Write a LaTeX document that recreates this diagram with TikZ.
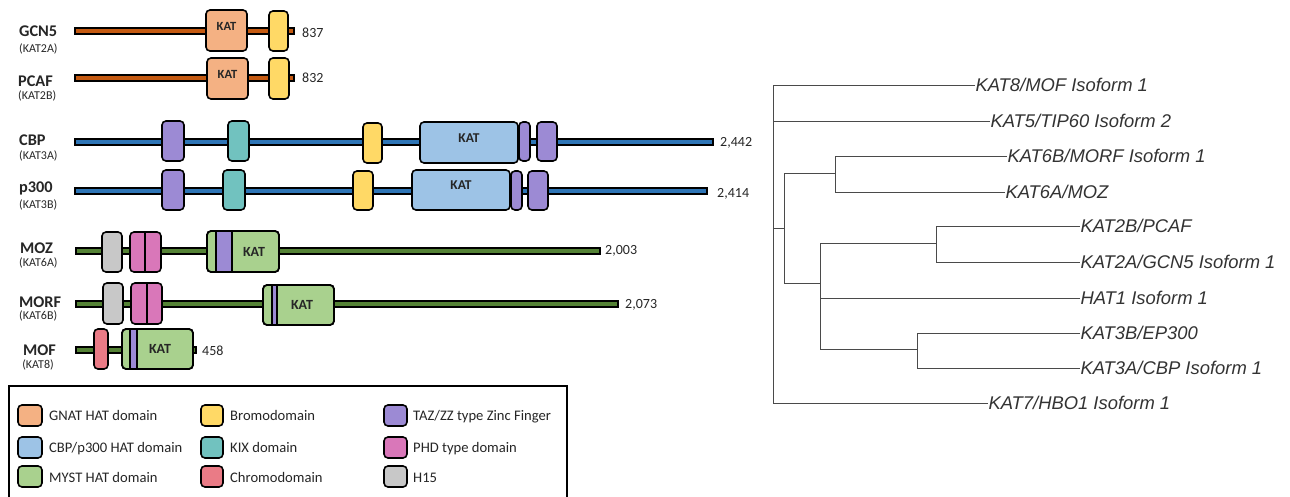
\documentclass[tikz,border=0pt]{standalone}
\usepackage{fontspec}
\setmainfont{Carlito}
\newfontfamily\treefont{Liberation Sans}
\usetikzlibrary{fit}
\definecolor{gnatc}{HTML}{F4B183}
\definecolor{bromoc}{HTML}{FFD966}
\definecolor{tazc}{HTML}{9C8AD4}
\definecolor{cbphatc}{HTML}{9DC3E6}
\definecolor{kixc}{HTML}{71C2BF}
\definecolor{mystc}{HTML}{A9D18E}
\definecolor{chromoc}{HTML}{EA7B86}
\definecolor{phdc}{HTML}{D977B9}
\definecolor{hfifc}{HTML}{C8C8C8}
\definecolor{bborange}{HTML}{C55A11}
\definecolor{bbblue}{HTML}{2E75B6}
\definecolor{bbgreen}{HTML}{548235}
\definecolor{txtc}{HTML}{262626}
\definecolor{treec}{HTML}{4A4A4A}
\definecolor{treetxt}{HTML}{333333}
\tikzset{
  dom/.style={draw=black, line width=1.6pt, rounded corners=4pt, inner sep=0pt, text=txtc},
  bb/.style={draw=black, line width=1.1pt, inner sep=0pt},
  sw/.style={draw=black, line width=1.6pt, rounded corners=4pt, inner sep=0pt},
  mainlbl/.style={inner sep=0pt, anchor=base west, text=txtc, font=\fontsize{16.3}{18}\selectfont\bfseries},
  sublbl/.style={inner sep=0pt, anchor=base west, text=txtc, font=\fontsize{12}{14}\selectfont},
  lenlbl/.style={inner sep=0pt, anchor=base west, text=txtc, font=\fontsize{14}{16}\selectfont},
  leglbl/.style={inner sep=0pt, anchor=base west, text=txtc, font=\fontsize{14.6}{16}\selectfont},
  katg/.style={font=\fontsize{12.5}{14}\selectfont\bfseries, text=txtc},
  katb/.style={font=\fontsize{13.5}{15}\selectfont\bfseries, text=txtc},
  leaf/.style={inner sep=0.3pt, anchor=west, text=treetxt, font=\fontsize{18.4}{20}\selectfont\treefont\itshape},
  tree/.style={draw=treec, line width=0.9pt},
}
\begin{document}
\begin{tikzpicture}[x=1pt,y=-1pt]
\useasboundingbox (0,0) rectangle (1290,497);
\fill[white] (0,0) rectangle (1290,497);

% ---------- GCN5 ----------
\node[bb, fill=bborange, fit={(75,28) (294,34)}] (gcnbb) {};
\node[dom, fill=gnatc, fit={(206,10) (247,51)}, katg] (gcnkat) {KAT};
\node[dom, fill=bromoc, fit={(269,11) (288,51)}] (gcnbro) {};
\node[mainlbl] (gcnl) at (19,37) {GCN5};
\node[sublbl] (gcns) at (19,53) {(KAT2A)};
\node[lenlbl] (gcnn) at (302,38) {837};

% ---------- PCAF ----------
\node[bb, fill=bborange, fit={(75,75) (294,81)}] (pcafbb) {};
\node[dom, fill=gnatc, fit={(207,58) (248,99)}, katg] (pcafkat) {KAT};
\node[dom, fill=bromoc, fit={(269,58) (289,99)}] (pcafbro) {};
\node[mainlbl] (pcafl) at (18,87) {PCAF};
\node[sublbl] (pcafs) at (18,100) {(KAT2B)};
\node[lenlbl] (pcafn) at (302,83) {832};

% ---------- CBP ----------
\node[bb, fill=bbblue, fit={(75,139) (713,145)}] (cbpbb) {};
\node[dom, fill=tazc, fit={(162,121) (184,161)}] (cbptaz1) {};
\node[dom, fill=kixc, fit={(228,121) (249,161)}] (cbpkix) {};
\node[dom, fill=bromoc, fit={(363,123) (382,163)}] (cbpbro) {};
\node[dom, fill=cbphatc, fit={(420,122) (518,163)}, katb] (cbpkat) {KAT};
\node[dom, fill=tazc, fit={(519,122) (530,161)}] (cbptaz2) {};
\node[dom, fill=tazc, fit={(537,122) (557,161)}] (cbptaz3) {};
\node[mainlbl] (cbpl) at (19,146) {CBP};
\node[sublbl] (cbps) at (19,160) {(KAT3A)};
\node[lenlbl] (cbpn) at (720,147) {2,442};

% ---------- p300 ----------
\node[bb, fill=bbblue, fit={(75,188) (707,194)}] (pbb) {};
\node[dom, fill=tazc, fit={(162,170) (184,210)}] (ptaz1) {};
\node[dom, fill=kixc, fit={(223,170) (245,210)}] (pkix) {};
\node[dom, fill=bromoc, fit={(353,171) (373,210)}] (pbro) {};
\node[dom, fill=cbphatc, fit={(412,170) (510,210)}, katb] (pkat) {KAT};
\node[dom, fill=tazc, fit={(511,171) (522,210)}] (ptaz2) {};
\node[dom, fill=tazc, fit={(528,171) (548,210)}] (ptaz3) {};
\node[mainlbl] (pl) at (19,193) {p300};
\node[sublbl] (ps) at (19,208) {(KAT3B)};
\node[lenlbl] (pn) at (717,197) {2,414};

% ---------- MOZ ----------
\node[bb, fill=bbgreen, fit={(76,248) (600,254)}] (mozbb) {};
\node[dom, fill=hfifc, fit={(102,232) (122,272)}] (mozh) {};
\node[dom, fill=phdc, fit={(130,232) (161,272)}] (mozphd) {};
\draw[line width=1.6pt] (145,232) -- (145,272);
\node[dom, fill=mystc, fit={(207,231) (279,272)}] (mozkat) {};
\fill[tazc] (216,232) rectangle (232,271);
\draw[line width=1.6pt] (216,231) -- (216,272) (232,231) -- (232,272);
\node[dom, fill=none, fit={(207,231) (279,272)}] (mozkato) {};
\node[katb, font=\fontsize{14}{16}\selectfont\bfseries] (mozkt) at (254,251.5) {KAT};
\node[mainlbl] (mozl) at (20,253) {MOZ};
\node[sublbl] (mozs) at (19,266) {(KAT6A)};
\node[lenlbl] (mozn) at (605,254) {2,003};

% ---------- MORF ----------
\node[bb, fill=bbgreen, fit={(76,301) (618,307)}] (morfbb) {};
\node[dom, fill=hfifc, fit={(103,283) (123,324)}] (morfh) {};
\node[dom, fill=phdc, fit={(131,283) (162,324)}] (morfphd) {};
\draw[line width=1.6pt] (147,283) -- (147,324);
\node[dom, fill=mystc, fit={(263,285) (334,325)}] (morfkat) {};
\fill[tazc] (272,286) rectangle (277,324);
\draw[line width=1.6pt] (272,285) -- (272,325) (277,285) -- (277,325);
\node[dom, fill=none, fit={(263,285) (334,325)}] (morfkato) {};
\node[katb, font=\fontsize{14}{16}\selectfont\bfseries] (morfkt) at (302,305) {KAT};
\node[mainlbl] (morfl) at (19,307) {MORF};
\node[sublbl] (morfs) at (19,319) {(KAT6B)};
\node[lenlbl] (morfn) at (625,308) {2,073};

% ---------- MOF ----------
\node[bb, fill=bbgreen, fit={(76,347) (196,353)}] (mofbb) {};
\node[dom, fill=chromoc, fit={(94,329) (108,369)}] (mofchr) {};
\node[dom, fill=mystc, fit={(122,329) (193,369)}] (mofkat) {};
\fill[tazc] (130,330) rectangle (137,368);
\draw[line width=1.6pt] (130,329) -- (130,369) (137,329) -- (137,369);
\node[dom, fill=none, fit={(122,329) (193,369)}] (mofkato) {};
\node[katb, font=\fontsize{14}{16}\selectfont\bfseries] (mofkt) at (160,349) {KAT};
\node[mainlbl, anchor=base] (mofl) at (39.5,355) {MOF};
\node[sublbl, anchor=base] (mofs) at (38,368) {(KAT8)};
\node[lenlbl] (mofn) at (202,355) {458};

% ---------- Legend ----------
\draw[line width=1.5pt] (9,505) -- (9,386) -- (567,386) -- (567,505);
\node[sw, fill=gnatc,   fit={(18,405) (42,426)}] (sw1) {};
\node[sw, fill=cbphatc, fit={(18,437) (42,458)}] (sw2) {};
\node[sw, fill=mystc,   fit={(18,466) (42,487)}] (sw3) {};
\node[sw, fill=bromoc,  fit={(201,405) (223,426)}] (sw4) {};
\node[sw, fill=kixc,    fit={(201,437) (223,458)}] (sw5) {};
\node[sw, fill=chromoc, fit={(201,466) (223,487)}] (sw6) {};
\node[sw, fill=tazc,    fit={(384,405) (407,426)}] (sw7) {};
\node[sw, fill=phdc,    fit={(384,437) (407,458)}] (sw8) {};
\node[sw, fill=hfifc,   fit={(384,466) (407,487)}] (sw9) {};
\node[leglbl] (lg1) at (49,420) {GNAT HAT domain};
\node[leglbl] (lg2) at (49,452) {CBP/p300 HAT domain};
\node[leglbl] (lg3) at (49,482) {MYST HAT domain};
\node[leglbl] (lg4) at (230,420) {Bromodomain};
\node[leglbl] (lg5) at (230,452) {KIX domain};
\node[leglbl] (lg6) at (230,482) {Chromodomain};
\node[leglbl] (lg7) at (413,420) {TAZ/ZZ type Zinc Finger};
\node[leglbl] (lg8) at (413,452) {PHD type domain};
\node[leglbl] (lg9) at (413,482) {H15};

% ---------- Tree ----------
\node[leaf] (k8)  at (975,85)  {KAT8/MOF Isoform 1};
\node[leaf] (k5)  at (990,121) {KAT5/TIP60 Isoform 2};
\node[leaf] (k6b) at (1007,156) {KAT6B/MORF Isoform 1};
\node[leaf] (k6a) at (1005,192) {KAT6A/MOZ};
\node[leaf] (k2b) at (1080,226) {KAT2B/PCAF};
\node[leaf] (k2a) at (1080,262) {KAT2A/GCN5 Isoform 1};
\node[leaf] (hat) at (1080,298) {HAT1 Isoform 1};
\node[leaf] (k3b) at (1080,333) {KAT3B/EP300};
\node[leaf] (k3a) at (1080,368) {KAT3A/CBP Isoform 1};
\node[leaf] (k7)  at (988,403) {KAT7/HBO1 Isoform 1};
\coordinate (r)  at (773,228);
\coordinate (a)  at (784,228);
\coordinate (b6) at (835,173);
\coordinate (b2) at (820,283);
\coordinate (c2) at (936,243);
\coordinate (c3) at (917,349);
\draw[tree] (k8.west) -| (r) |- (k7.west);
\draw[tree] (k5.west) -| (r);
\draw[tree] (r) -- (a);
\draw[tree] (k6b.west) -| (b6) |- (k6a.west);
\draw[tree] (b6) -| (a) |- (b2);
\draw[tree] (c2) -| (b2) |- (c3);
\draw[tree] (hat.west) -| (b2);
\draw[tree] (k2b.west) -| (c2) |- (k2a.west);
\draw[tree] (k3b.west) -| (c3) |- (k3a.west);
\end{tikzpicture}
\end{document}
